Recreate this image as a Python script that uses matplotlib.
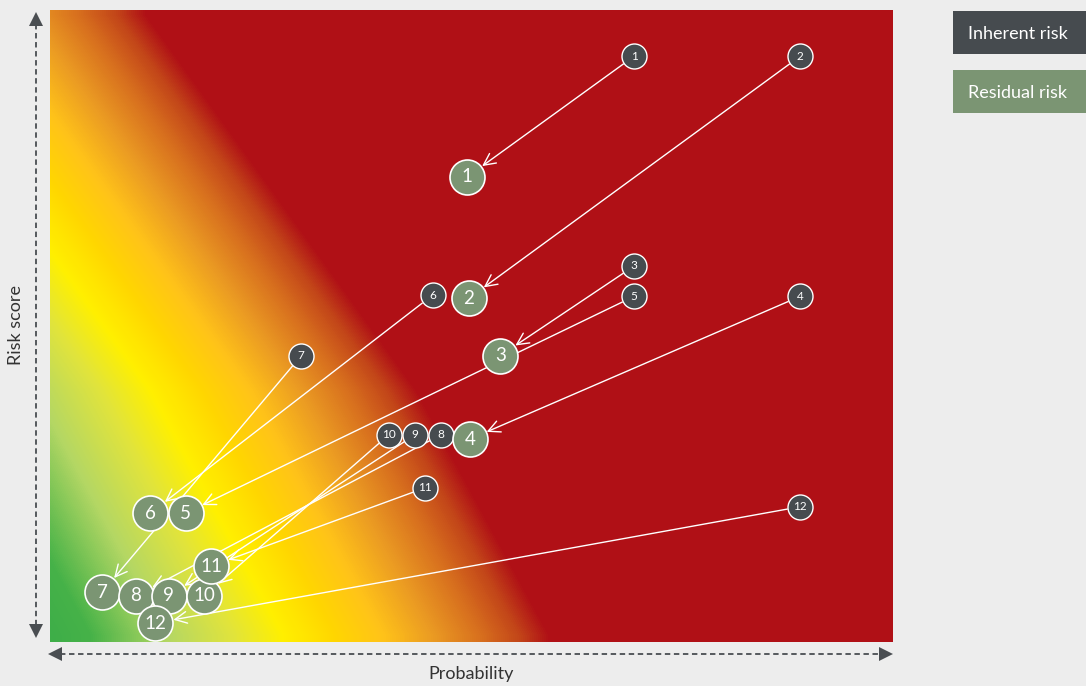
import matplotlib
matplotlib.use('Agg')
import matplotlib.pyplot as plt
import numpy as np
from matplotlib.colors import LinearSegmentedColormap
from matplotlib.patches import Rectangle

plt.rcParams['font.family'] = ['Lato', 'DejaVu Sans']

# risk data (probability / risk score on a 0-100 scale)
risk_ids = ['1', '2', '3', '4', '5', '6', '7', '8', '9', '10', '11', '12']
inherent_prob = [69.3, 89.0, 69.3, 89.0, 69.3, 45.4, 29.8, 46.4, 43.3, 40.2, 44.5, 89.0]
inherent_score = [92.7, 92.7, 59.5, 54.7, 54.7, 54.9, 45.3, 32.8, 32.8, 32.8, 24.4, 21.4]
residual_prob = [49.5, 49.7, 53.4, 49.8, 16.1, 11.9, 6.2, 10.2, 14.1, 18.3, 19.1, 12.5]
residual_score = [73.6, 54.4, 45.3, 32.1, 20.4, 20.4, 7.9, 7.3, 7.3, 7.3, 12.0, 3.0]
legend_labels = ['Inherent risk', 'Residual risk']
x_label = 'Probability'
y_label = 'Risk score'

BG = '#EDEDED'
DARK = '#464B4F'
GREEN = '#7B9573'
AXIS_GREY = '#4A4E52'

# heat map colour stops (distance in px from the green corner)
stops = [(0, (62, 174, 73)), (40, (70, 178, 72)), (117, (180, 215, 100)),
         (183, (225, 228, 60)), (233, (255, 240, 0)), (283, (255, 215, 0)),
         (333, (255, 195, 25)), (383, (235, 155, 35)), (433, (215, 110, 30)),
         (470, (195, 70, 25)), (500, (176, 16, 22))]

W, H = 1086, 686
fig = plt.figure(figsize=(W / 100, H / 100), dpi=100, facecolor=BG)

# overlay in pixel coords for the axis arrows, labels and legend
ov = fig.add_axes([0, 0, 1, 1])
ov.set_xlim(0, W)
ov.set_ylim(H, 0)
ov.axis('off')

ax = fig.add_axes([50 / W, 44 / H, 843 / W, 632 / H])

# gradient background
pw, ph = 843, 632
gx, gy = np.meshgrid(np.arange(pw) + 0.5, np.arange(ph) + 0.5)
shift = np.interp(gy, [5, 380, 625], [403, 133, 0])
u = np.clip((gx + shift) / 500.0, 0, 1)
cmap = LinearSegmentedColormap.from_list(
    'heat', [(d / 500.0, tuple(c / 255 for c in col)) for d, col in stops])
ax.imshow(cmap(u), extent=[0, 100, 0, 100], aspect='auto', origin='upper',
          interpolation='bilinear', zorder=0)
ax.set_xlim(0, 100)
ax.set_ylim(0, 100)
ax.axis('off')

# arrows inherent -> residual
for i in range(len(risk_ids)):
    ax.annotate('', xy=(residual_prob[i], residual_score[i]),
                xytext=(inherent_prob[i], inherent_score[i]),
                arrowprops=dict(arrowstyle='->,head_length=0.85,head_width=0.42',
                                color='white', lw=1.0, shrinkA=9.5, shrinkB=13.2),
                zorder=2)

# inherent circles
for i, rid in enumerate(risk_ids):
    ax.scatter(inherent_prob[i], inherent_score[i], s=324, c=DARK,
               edgecolors='white', linewidths=1.0, zorder=3 + i * 0.01)
    ax.text(inherent_prob[i], inherent_score[i], rid, ha='center', va='center',
            color='white', fontsize=8.5, zorder=3.005 + i * 0.01)

# residual circles
for i, rid in enumerate(risk_ids):
    ax.scatter(residual_prob[i], residual_score[i], s=635, c=GREEN,
               edgecolors='white', linewidths=1.2, zorder=4 + i * 0.01)
    ax.text(residual_prob[i], residual_score[i], rid, ha='center', va='center',
            color='white', fontsize=13.5, zorder=4.005 + i * 0.01)

# dashed axis arrows
ov.plot([36, 36], [24, 626], ls=(0, (3, 2)), color=AXIS_GREY, lw=1.3)
ov.plot(36, 19, marker='^', ms=10, color=AXIS_GREY, mew=0)
ov.plot(36, 631, marker='v', ms=10, color=AXIS_GREY, mew=0)
ov.plot([60, 881], [654, 654], ls=(0, (3, 2)), color=AXIS_GREY, lw=1.3)
ov.plot(55, 654, marker='<', ms=10, color=AXIS_GREY, mew=0)
ov.plot(886, 654, marker='>', ms=10, color=AXIS_GREY, mew=0)

ov.text(16, 325, y_label, rotation=90, ha='center', va='center',
        fontsize=13, color='#333333')
ov.text(471, 674, x_label, ha='center', va='center', fontsize=13,
        color='#333333')

# legend boxes
for j, (lab, col) in enumerate(zip(legend_labels, [DARK, GREEN])):
    top = 11 + j * 59
    ov.add_patch(Rectangle((953, top), 140, 43, facecolor=col, edgecolor='none'))
    ov.text(968, top + 23, lab, ha='left', va='center', color='white',
            fontsize=13)

fig.savefig('out.png', dpi=100, facecolor=BG)
